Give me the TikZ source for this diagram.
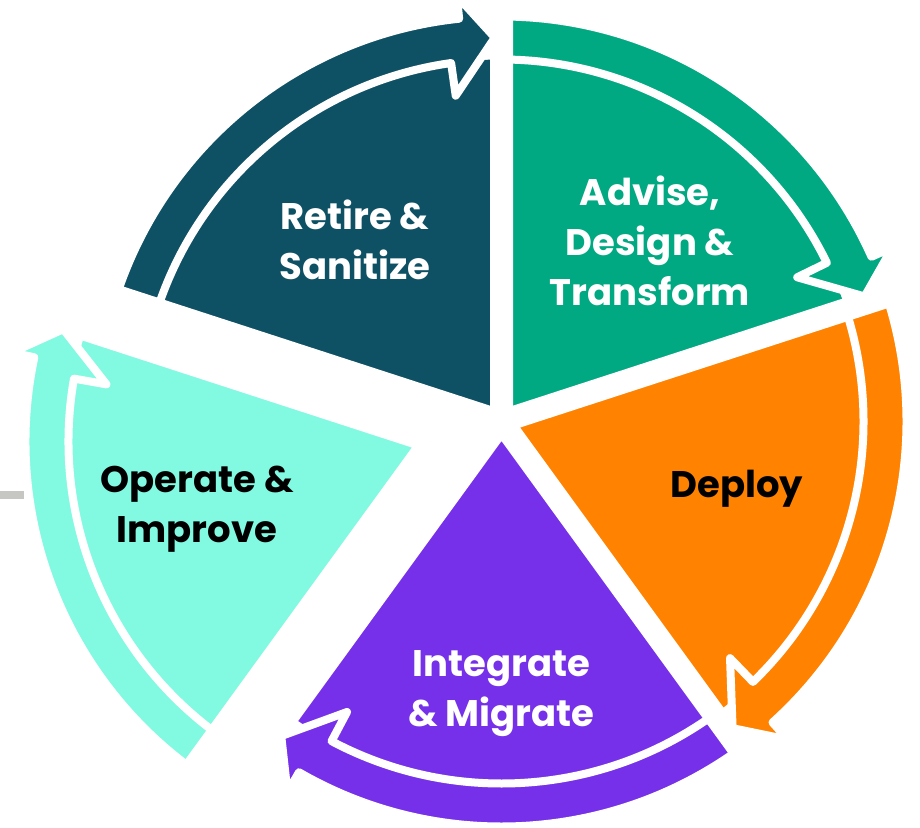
\documentclass[tikz,border=0pt]{standalone}
\usepackage{fontspec}
\setmainfont{Poppins}
\usetikzlibrary{positioning}
\definecolor{cRetire} {HTML}{0E5164}
\definecolor{cAdvise} {HTML}{01A982}
\definecolor{cDeploy} {HTML}{FF8300}
\definecolor{cMigrate}{HTML}{7630EA}
\definecolor{cOperate}{HTML}{82F9E1}
\definecolor{cRule}   {HTML}{C6C6C2}
\tikzset{
  phase/.style  ={fill=#1},
  band/.style   ={fill=#1,draw=white,line width=8pt,line join=round},
  gapline/.style={draw=white,line width=23pt},
  lbl/.style    ={font=\bfseries\fontsize{37}{50}\selectfont,align=center,inner sep=0pt},
}
\begin{document}
\begin{tikzpicture}[x=1pt, y=1pt]
\useasboundingbox (-501.5,-405.5) rectangle (418.5,421.5);
\def\rS{362}   % sector edge (centre of the white ring)
\def\rO{405}   % outer edge of the arrow band
\def\rB{428}   % outer barb
\def\rT{384}   % arrow tip
\def\rN{329}   % inner barb

% Retire & Sanitize
\fill[phase=cRetire] (0,0) -- (162:\rS) arc[start angle=162,end angle=90,radius=\rS] -- cycle;
\filldraw[band=cRetire] (162:\rO) arc[start angle=162,end angle=96,radius=\rO]
  -- (96:\rB) -- (91:\rT) -- (98:\rN) -- (98:\rS) arc[start angle=98,end angle=162,radius=\rS] -- cycle;

% Advise, Design & Transform
\fill[phase=cAdvise] (0,0) -- (90:\rS) arc[start angle=90,end angle=18,radius=\rS] -- cycle;
\filldraw[band=cAdvise] (90:\rO) arc[start angle=90,end angle=24,radius=\rO]
  -- (24:\rB) -- (19:\rT) -- (26:\rN) -- (26:\rS) arc[start angle=26,end angle=90,radius=\rS] -- cycle;

% Deploy
\fill[phase=cDeploy] (0,0) -- (18:\rS) arc[start angle=18,end angle=-54,radius=\rS] -- cycle;
\filldraw[band=cDeploy] (18:\rO) arc[start angle=18,end angle=-48,radius=\rO]
  -- (-48:\rB) -- (-53:\rT) -- (-46:\rN) -- (-46:\rS) arc[start angle=-46,end angle=18,radius=\rS] -- cycle;

% Integrate & Migrate
\fill[phase=cMigrate] (0,0) -- (-54:\rS) arc[start angle=-54,end angle=-126,radius=\rS] -- cycle;
\filldraw[band=cMigrate] (-54:\rO) arc[start angle=-54,end angle=-120,radius=\rO]
  -- (-120:\rB) -- (-125:\rT) -- (-118:\rN) -- (-118:\rS) arc[start angle=-118,end angle=-54,radius=\rS] -- cycle;

% white gaps between the four joined phases
\draw[gapline] (0,0) -- (162:480) (0,0) -- (90:480) (0,0) -- (18:480)
  (0,0) -- (-54:480) (0,0) -- (-126:480);

% Operate & Improve sits pulled out of the circle
\begin{scope}[shift={(-71,-20)}]
\fill[phase=cOperate] (0,0) -- (-126:\rS) arc[start angle=-126,end angle=-198,radius=\rS] -- cycle;
\filldraw[band=cOperate] (-126:\rO) arc[start angle=-126,end angle=-192,radius=\rO]
  -- (-192:\rB) -- (-197:\rT) -- (-190:\rN) -- (-190:\rS) arc[start angle=-190,end angle=-126,radius=\rS] -- cycle;
\draw[gapline] (0,0) -- (-126:480) (0,0) -- (162:480);
\end{scope}

\fill[cRule] (-501.5,-69.5) rectangle (-477.5,-77.5);

\node[lbl,text=white] (retire)  at (-146.5,181.5) {Retire \&\\Sanitize};
\node[lbl,text=white] (advise)  at (148.5,181)    {Advise,\\Design \&\\Transform};
\node[lbl,text=black] (deploy)  at (235.5,-67)    {Deploy};
\node[lbl,text=white] (migrate) at (0,-272)       {Integrate\\\& Migrate};
\node[lbl,text=black] (operate) at (-304.5,-88)   {Operate \&\\Improve};
\end{tikzpicture}
\end{document}
